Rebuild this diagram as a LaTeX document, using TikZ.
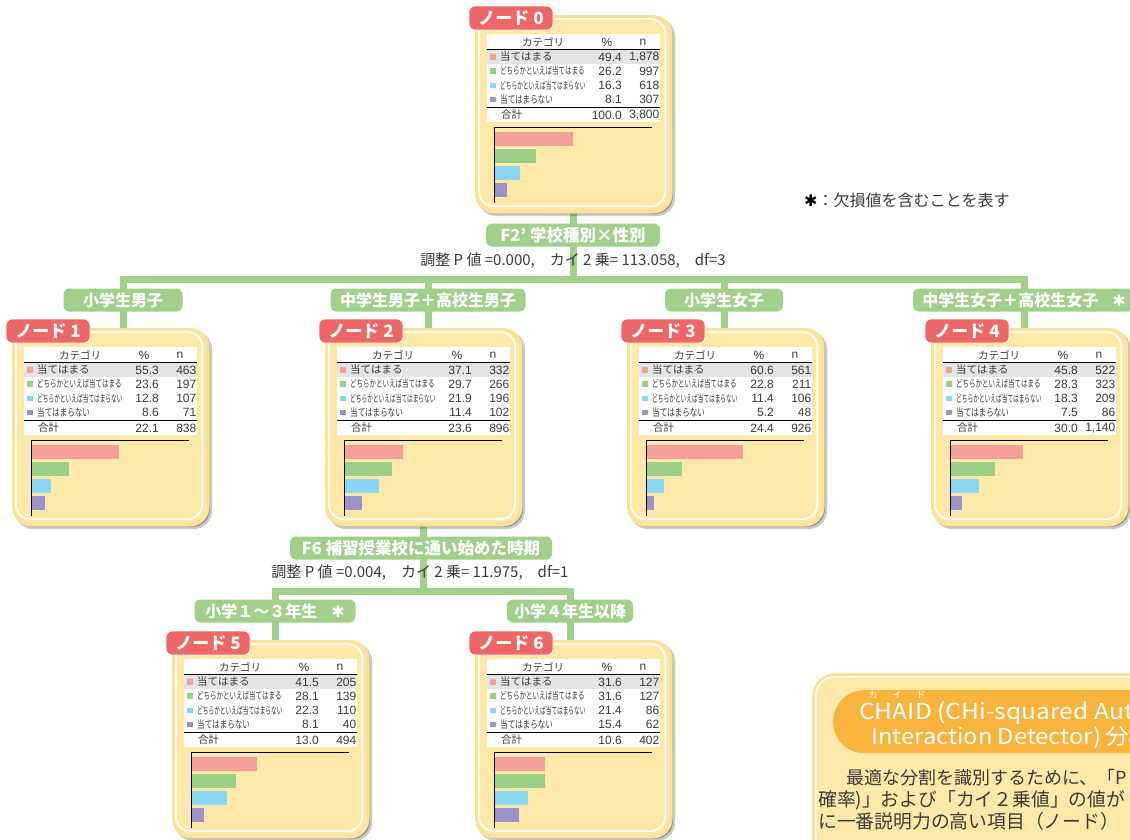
\documentclass[tikz,border=0pt]{standalone}
\usepackage{fontspec}
\setmainfont{Noto Sans CJK JP}
\newfontfamily\numf{Liberation Sans}
\newfontfamily\djv{DejaVu Sans}
\usetikzlibrary{calc}
\pgfdeclarelayer{bgw}
\pgfdeclarelayer{bg}
\pgfsetlayers{bgw,bg,main}
\definecolor{conngreen}{RGB}{160,208,138}
\definecolor{redlbl}{RGB}{238,102,102}
\definecolor{cream}{RGB}{255,233,168}
\definecolor{boxedge}{RGB}{252,226,150}
\definecolor{rowgray}{RGB}{228,228,230}
\definecolor{barA}{RGB}{244,160,150}
\definecolor{barB}{RGB}{156,207,134}
\definecolor{barC}{RGB}{136,213,244}
\definecolor{barD}{RGB}{156,146,201}
\definecolor{orangehd}{RGB}{249,180,62}
\definecolor{textgray}{RGB}{58,58,58}
\definecolor{shadowc}{RGB}{80,80,80}
\tikzset{
 nodebox/.style={draw=boxedge, line width=3.5pt, fill=cream, rounded corners=18pt, minimum width=194pt, minimum height=195pt, inner sep=0pt},
 redtag/.style={fill=redlbl, draw=white, line width=0.8pt, rounded corners=6pt, minimum width=84pt, minimum height=24pt, inner sep=0pt, text=white, font=\bfseries\fontsize{17}{17}\selectfont},
 tbl/.style={inner sep=0pt, text=textgray, font=\fontsize{10.5}{11}\selectfont},
 num/.style={tbl, anchor=east, font=\numf\fontsize{12}{12}\selectfont},
 cat/.style={tbl, anchor=west},
 connline/.style={draw=conngreen, line width=7pt, line cap=rect},
 brlbl/.style={fill=conngreen, rounded corners=6pt, minimum height=23pt, inner sep=0pt, text=white, font=\bfseries\fontsize{16}{16}\selectfont},
 ptext/.style={inner sep=0pt, text=textgray, font=\fontsize{15}{15}\selectfont},
 bodytext/.style={anchor=west, inner sep=0pt, text=textgray, font=\fontsize{18.8}{21}\selectfont},
 titletext/.style={anchor=west, inner sep=0pt, text=white, font=\fontsize{22}{22}\selectfont},
}
\newcommand\setrows[8]{\def\pA{#1}\def\nA{#2}\def\pB{#3}\def\nB{#4}\def\pC{#5}\def\nC{#6}\def\pD{#7}\def\nD{#8}}
\newcommand\chnode[6]{%
\begin{scope}[shift={(#2,#3)}]
 \fill[shadowc, opacity=.3, rounded corners=18pt] (3,3) rectangle (200,201);
 \fill[shadowc, opacity=.45, rounded corners=18pt] (4,4) rectangle (198,199);
 \node[nodebox, anchor=north west] (#1) at (0,0) {};
 \draw[white, line width=1.6pt, rounded corners=15pt] (3.8,3.8) rectangle (190.2,191.2);
 \fill[white] (11.5,18.5) rectangle (185,107);
 \fill[rowgray] (11.5,35) rectangle (185,49.2);
 \draw[line width=1.1pt] (11.5,34.6) -- (185,34.6);
 \draw[line width=1pt] (11.5,92.4) -- (185,92.4);
 \node[tbl] (#1hc) at (68,27) {カテゴリ};
 \node[tbl, font=\numf\fontsize{12}{12}\selectfont] (#1hp) at (132,27) {\%};
 \node[tbl, font=\numf\fontsize{12}{12}\selectfont] (#1hn) at (168,27) {n};
 \fill[barA] (15,39.3) rectangle (20.5,44.8);
 \fill[barB] (15,53.3) rectangle (20.5,58.8);
 \fill[barC] (15,67.8) rectangle (20.5,73.3);
 \fill[barD] (15,81.8) rectangle (20.5,87.3);
 \node[cat] (#1c1) at (25,42) {当てはまる};
 \node[cat] (#1c2) at (25,56) {\scalebox{0.65}[1]{\fontsize{10}{11}\selectfont どちらかといえば当てはまる}};
 \node[cat] (#1c3) at (25,70.5) {\scalebox{0.57}[1]{\fontsize{10}{11}\selectfont どちらかといえば当てはまらない}};
 \node[cat] (#1c4) at (25,84.5) {\scalebox{0.72}[1]{当てはまらない}};
 \node[cat] (#1ct) at (26,100) {合計};
 \node[num] (#1p1) at (147,42) {\pA};
 \node[num] (#1p2) at (147,56) {\pB};
 \node[num] (#1p3) at (147,70.5) {\pC};
 \node[num] (#1p4) at (147,84.5) {\pD};
 \node[num] (#1pt) at (147,100) {#5};
 \node[num] (#1n1) at (184.5,42) {\nA};
 \node[num] (#1n2) at (184.5,56) {\nB};
 \node[num] (#1n3) at (184.5,70.5) {\nC};
 \node[num] (#1n4) at (184.5,84.5) {\nD};
 \node[num] (#1nt) at (184.5,100) {#6};
 \fill[barA] (19,117) rectangle ({19+1.6*\pA},131);
 \fill[barB] (19,134) rectangle ({19+1.6*\pB},148);
 \fill[barC] (19,151) rectangle ({19+1.6*\pC},165);
 \fill[barD] (19,168) rectangle ({19+1.6*\pD},182);
 \draw[line width=1pt] (19,112) -- (177,112);
 \draw[line width=1pt] (19,112) -- (19,188);
 \node[redtag] (#1tag) at (36,3) {ノード #4};
\end{scope}}
\begin{document}
\begin{tikzpicture}[x=1pt,y=-1pt]
\begin{pgfonlayer}{bgw}\fill[white] (0,0) rectangle (1130,839);\end{pgfonlayer}
\useasboundingbox (0,0) rectangle (1130,839);
\clip (0,0) rectangle (1130,839);

\setrows{49.4}{1,878}{26.2}{997}{16.3}{618}{8.1}{307}
\chnode{n0}{475}{15}{0}{100.0}{3,800}
\setrows{55.3}{463}{23.6}{197}{12.8}{107}{8.6}{71}
\chnode{n1}{12}{328}{1}{22.1}{838}
\setrows{37.1}{332}{29.7}{266}{21.9}{196}{11.4}{102}
\chnode{n2}{325}{328}{2}{23.6}{896}
\setrows{60.6}{561}{22.8}{211}{11.4}{106}{5.2}{48}
\chnode{n3}{627}{328}{3}{24.4}{926}
\setrows{45.8}{522}{28.3}{323}{18.3}{209}{7.5}{86}
\chnode{n4}{931}{328}{4}{30.0}{1,140}
\setrows{41.5}{205}{28.1}{139}{22.3}{110}{8.1}{40}
\chnode{n5}{172}{640}{5}{13.0}{494}
\setrows{31.6}{127}{31.6}{127}{21.4}{86}{15.4}{62}
\chnode{n6}{475}{640}{6}{10.6}{402}

% split labels
\node[brlbl, minimum width=174pt, font=\bfseries\fontsize{16.5}{17}\selectfont] (s0) at (573,235) {F2’ 学校種別×性別};
\node[ptext] (p0) at (573,261) {調整 P 値 =0.000,　カイ 2 乗= 113.058,　df=3};
\node[brlbl, minimum width=262pt, font=\bfseries\fontsize{16.5}{17}\selectfont] (s2) at (421,548) {F6 補習授業校に通い始めた時期};
\node[ptext] (p2) at (420,573) {調整 P 値 =0.004,　カイ 2 乗= 11.975,　df=1};

% branch labels
\node[brlbl, minimum width=119pt] (b1) at (123,300) {小学生男子};
\node[brlbl, minimum width=195pt] (b2) at (428,300) {中学生男子＋高校生男子};
\node[brlbl, minimum width=118pt] (b3) at (724,300) {小学生女子};
\node[brlbl, minimum width=222pt] (b4) at (1024,300) {中学生女子＋高校生女子\hspace{14pt}{\djv\bfseries ✱}};
\node[brlbl, minimum width=161pt] (b5) at (275,611) {小学１～３年生\hspace{14pt}{\djv\bfseries ✱}};
\node[brlbl, minimum width=126pt] (b6) at (570,611) {小学４年生以降};

\coordinate (bar1L) at (123,279);
\coordinate (bar1R) at (1024,279);
\coordinate (bar2L) at (275,591);
\coordinate (bar2R) at (570,591);
\begin{pgfonlayer}{bg}
\draw[connline] (n0.south) -- (n0.south |- bar1L);
\draw[connline] (bar1L) -- (bar1R);
\foreach \b/\n in {b1/n1,b2/n2,b3/n3,b4/n4} \draw[connline] (\b |- bar1L) -- (\b |- \n.north);
\draw[connline] (n2.south) -- (n2.south |- bar2L);
\draw[connline] (bar2L) -- (bar2R);
\foreach \b/\n in {b5/n5,b6/n6} \draw[connline] (\b |- bar2L) -- (\b |- \n.north);
\end{pgfonlayer}

% legend
\node[anchor=west, inner sep=0pt, text=textgray, font=\fontsize{16}{16}\selectfont] (legend) at (804,200) {{\djv\bfseries\textcolor{black}{✱}}：欠損値を含むことを表す};

% CHAID box
\fill[shadowc, opacity=.3, rounded corners=22pt] (815,676) rectangle (1180,930);
\node[nodebox, rounded corners=22pt, minimum width=370pt, minimum height=260pt, anchor=north west] (cbox) at (812,673) {};
\draw[white, line width=1.6pt, rounded corners=19pt] (815.8,676.8) rectangle (1200,930);
\node[fill=orangehd, rounded corners=31pt, minimum width=340pt, minimum height=63pt, inner sep=0pt, anchor=north west] (chead) at (833,690) {};
\node[titletext] (ct1) at (859,713) {\scalebox{1.12}[1]{CHAID (CHi-squared Automatic}};
\node[titletext] (ct2) at (871,737) {\scalebox{1.08}[1]{Interaction Detector)\,分析}};
\node[inner sep=0pt, text=white, font=\fontsize{9}{9}\selectfont] (ruby) at (897,695) {カ\hspace{15pt}イ\hspace{15pt}ド};
\node[bodytext, font=\fontsize{18}{21}\selectfont] (cb1) at (846,778) {最適な分割を識別するために、「P};
\node[bodytext] (cb2) at (818,800) {確率)」および「カイ２乗値」の値が};
\node[bodytext] (cb3) at (818,821) {に一番説明力の高い項目（ノード）};
\end{tikzpicture}
\end{document}
